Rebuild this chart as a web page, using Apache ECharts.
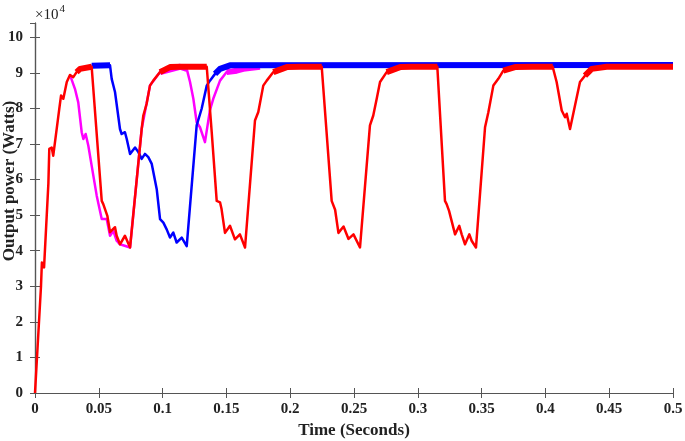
<!DOCTYPE html>
<html>
<head>
<meta charset="utf-8">
<script src="https://cdn.jsdelivr.net/npm/echarts@6/dist/echarts.min.js"></script>
<style>
html,body{margin:0;padding:0;background:#fff;}
#chart{width:685px;height:441px;}
</style>
</head>
<body>
<div id="chart"></div>
<script>
// Output power in units of 1e4 W, time in seconds
const xTicks = ["0","0.05","0.1","0.15","0.2","0.25","0.3","0.35","0.4","0.45","0.5"];
const yTicks = ["0","1","2","3","4","5","6","7","8","9","10"];
const xTitle = "Time (Seconds)";
const yTitle = "Output power (Watts)";

const redT = [0, 0.0047, 0.0054, 0.0071, 0.0105, 0.0112, 0.0131, 0.0143, 0.0190, 0.0204, 0.0222, 0.0249, 0.0274, 0.0300, 0.0326, 0.0353, 0.0444,
  0.0523, 0.0535, 0.0567, 0.0588, 0.0627, 0.0640, 0.0666, 0.0705, 0.0745,
  0.0836, 0.0849, 0.0875, 0.0901, 0.0927, 0.0980, 0.1058, 0.1136,
  0.1346, 0.1385, 0.1424, 0.1450, 0.1462, 0.1489, 0.1528, 0.1567, 0.1606, 0.1646,
  0.1724, 0.1750, 0.1789, 0.1816, 0.1868, 0.1973, 0.2077,
  0.2247, 0.2325, 0.2340, 0.2352, 0.2378, 0.2418, 0.2457, 0.2496, 0.2547,
  0.2625, 0.2651, 0.2678, 0.2704, 0.2756, 0.2861, 0.2950,
  0.3153, 0.3213, 0.3226, 0.3245, 0.3292, 0.3325, 0.3344, 0.3370, 0.3404, 0.3422, 0.3456,
  0.3527, 0.3553, 0.3592, 0.3631, 0.3670, 0.3762, 0.3900,
  0.4057, 0.4088, 0.4128, 0.4154, 0.4167, 0.4193, 0.4232, 0.4271, 0.4310, 0.4363, 0.4480, 0.5];
const redP = [0, 3.0, 3.67, 3.53, 5.9, 6.86, 6.9, 6.67, 7.98, 8.36, 8.27, 8.74, 8.94, 8.88, 9.02, 9.11, 9.17,
  5.40, 5.31, 4.98, 4.52, 4.66, 4.42, 4.18, 4.42, 4.09,
  7.42, 7.80, 8.13, 8.64, 8.78, 9.02, 9.16, 9.17,
  9.17, 7.33, 5.40, 5.36, 5.17, 4.50, 4.70, 4.32, 4.46, 4.09,
  7.66, 7.90, 8.64, 8.78, 9.02, 9.16, 9.17,
  9.17, 5.40, 5.35, 5.15, 4.50, 4.68, 4.33, 4.46, 4.09,
  7.52, 7.80, 8.27, 8.74, 9.02, 9.16, 9.17,
  9.17, 5.40, 5.31, 5.12, 4.46, 4.70, 4.46, 4.18, 4.46, 4.28, 4.09,
  7.47, 7.89, 8.64, 8.83, 9.06, 9.16, 9.17,
  9.17, 8.74, 7.94, 7.75, 7.85, 7.42, 8.08, 8.74, 8.92, 9.11, 9.17, 9.17];

const blueT = [0.0444, 0.0588, 0.0601, 0.0627, 0.0666, 0.0679, 0.0705, 0.0719, 0.0745, 0.0784,
  0.0810, 0.0836, 0.0862, 0.0888, 0.0915, 0.0954, 0.0980, 0.1006, 0.1032, 0.1058,
  0.1084, 0.1110, 0.1150, 0.1189, 0.1267, 0.1306, 0.1346, 0.1371, 0.1411, 0.1450,
  0.1528, 0.5];
const blueP = [9.20, 9.21, 8.83, 8.46, 7.42, 7.28, 7.33, 7.14, 6.72, 6.90,
  6.77, 6.58, 6.72, 6.63, 6.44, 5.73, 4.89, 4.79, 4.60, 4.37,
  4.51, 4.23, 4.37, 4.13, 7.52, 7.99, 8.64, 8.78, 8.97, 9.11,
  9.21, 9.22];

const magT = [0.0274, 0.0313, 0.0339, 0.0366, 0.0379, 0.0397, 0.0418, 0.0444, 0.0484, 0.0523,
  0.0562, 0.0588, 0.0614, 0.0640, 0.0666, 0.0745, 0.0836, 0.0901, 0.0980, 0.1136,
  0.1189, 0.1215, 0.1241, 0.1267, 0.1293, 0.1332, 0.1371, 0.1397, 0.1450, 0.1502,
  0.1580, 0.1632, 0.1763];
const magP = [8.94, 8.55, 8.17, 7.33, 7.14, 7.28, 6.95, 6.39, 5.54, 4.89,
  4.89, 4.42, 4.56, 4.28, 4.18, 4.09, 7.42, 8.64, 9.02, 9.17,
  9.11, 8.74, 8.27, 7.61, 7.47, 7.05, 7.95, 8.27, 8.78, 9.02,
  9.06, 9.11, 9.17];

function pairs(t, p) { return t.map((v, i) => [v, p[i]]); }
function band(t, p) { return t.map((v, i) => [v, p[i] >= 8.9 ? p[i] : null]); }

const font = '"Liberation Serif", "Times New Roman", serif';
const axisCol = '#555';

const chart = echarts.init(document.getElementById('chart'), null, {renderer: 'canvas'});
const lineS = (name, data, color, w, z) => ({
  name, type: 'line', data, symbol: 'none', showSymbol: false, connectNulls: false,
  lineStyle: {color, width: w, cap: 'butt', join: 'round'}, z, animation: false, silent: true
});

chart.setOption({
  animation: false,
  backgroundColor: '#fff',
  grid: {left: 35, right: 12, top: 23, bottom: 48, containLabel: false, outerBoundsMode: 'none'},
  xAxis: [{
    type: 'value', min: 0, max: 0.5, interval: 0.05, position: 'bottom',
    name: xTitle, nameLocation: 'middle', nameGap: 28,
    nameTextStyle: {fontFamily: font, fontWeight: 'bold', fontSize: 17, color: '#222'},
    axisLine: {show: true, lineStyle: {color: axisCol, width: 1.2}},
    axisTick: {show: true, inside: true, length: 5, lineStyle: {color: axisCol}},
    axisLabel: {margin: 9, fontFamily: font, fontWeight: 'bold', fontSize: 15, color: '#222',
      formatter: (v) => xTicks[Math.round(v / 0.05)]},
    splitLine: {show: false}
  }, {
    type: 'value', min: 0, max: 0.5, interval: 0.05, position: 'top',
    axisLine: {show: true, lineStyle: {color: axisCol, width: 1.2}},
    axisTick: {show: true, inside: true, length: 5, lineStyle: {color: axisCol}},
    axisLabel: {show: false}, splitLine: {show: false}
  }],
  yAxis: [{
    type: 'value', min: 0, max: 10.4, interval: 1, position: 'left',
    axisLine: {show: true, lineStyle: {color: axisCol, width: 1.2}},
    axisTick: {show: true, inside: true, length: 5, lineStyle: {color: axisCol}},
    axisLabel: {margin: 12, fontFamily: font, fontWeight: 'bold', fontSize: 15, color: '#222',
      showMaxLabel: false, formatter: (v) => yTicks[Math.round(v)] || ''},
    splitLine: {show: false}
  }, {
    type: 'value', min: 0, max: 10.4, interval: 1, position: 'right',
    axisLine: {show: true, lineStyle: {color: axisCol, width: 1.2}},
    axisTick: {show: true, inside: true, length: 5, lineStyle: {color: axisCol}},
    axisLabel: {show: false}, splitLine: {show: false}
  }],
  graphic: [{
    type: 'text', left: 35, top: 4,
    style: {
      text: '{a|×10}{b|4}',
      rich: {
        a: {fontFamily: font, fontSize: 15, fill: '#222', verticalAlign: 'bottom', lineHeight: 18},
        b: {fontFamily: font, fontSize: 11, fill: '#222', verticalAlign: 'top', padding: [0, 0, 8, 1]}
      }
    }
  }, {
    type: 'text', x: 10, y: 181, rotation: Math.PI / 2,
    style: {
      text: yTitle, fontFamily: font, fontWeight: 'bold', fontSize: 17, fill: '#222',
      align: 'center', verticalAlign: 'middle'
    }
  }],
  series: [
    lineS('mag', pairs(magT, magP), '#ff00ff', 2.5, 2),
    lineS('magBand', band(magT, magP), '#ff00ff', 6, 3),
    lineS('blue', pairs(blueT, blueP), '#0000ff', 2.5, 4),
    lineS('blueBand', band(blueT, blueP), '#0000ff', 6, 5),
    lineS('red', pairs(redT, redP), '#ff0000', 2.5, 6),
    lineS('redBand', band(redT, redP), '#ff0000', 6, 7)
  ]
});
</script>
</body>
</html>
